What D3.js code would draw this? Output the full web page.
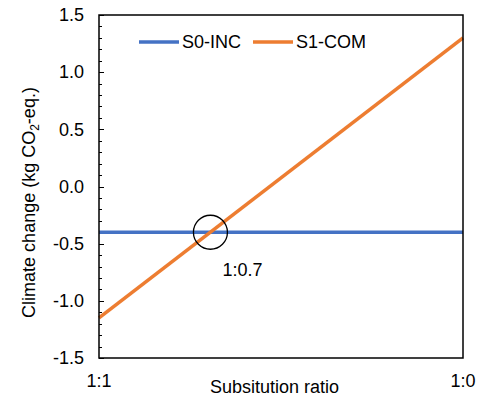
<!DOCTYPE html>
<html>
  <head>
    <script src="https://d3js.org/d3.v7.min.js"></script>
    <style>
      body { margin: 0; background: #fff; }
      text { font-family: "Liberation Sans", Arial, sans-serif; fill: #000; }
    </style>
  </head>
  <body>
    <svg width="478" height="398"></svg>
    <script>
      // substitution ratio position (0 = 1:1, 1 = 1:0)
      var xPos = [0, 1];
      var xTickLabels = ["1:1", "1:0"];
      var seriesNames = ["S0-INC", "S1-COM"];
      var s0Values = [-0.4, -0.4];
      var s1Values = [-1.15, 1.3];
      var colors = ["#4472C4", "#ED7D31"];
      var yTicks = [-1.5, -1.0, -0.5, 0.0, 0.5, 1.0, 1.5];
      var crossLabel = "1:0.7";

      var svg = d3.select("svg");
      var plotL = 99, plotT = 15, plotR = 463, plotB = 358;
      var fs = "18px";

      var x = d3.scaleLinear().domain([0, 1]).range([plotL, plotR]);
      var y = d3.scaleLinear().domain([-1.5, 1.5]).range([plotB, plotT]);

      // minor ticks (inside)
      var minor = d3.range(-15, 16).map(function (d) { return d / 10; });
      svg.append("g")
        .selectAll("line")
        .data(minor)
        .enter()
        .append("line")
        .attr("x1", plotL)
        .attr("x2", function (d) { return yTicks.indexOf(d) >= 0 ? plotL + 5 : plotL + 3; })
        .attr("y1", function (d) { return Math.round(y(d)) + 0.5; })
        .attr("y2", function (d) { return Math.round(y(d)) + 0.5; })
        .attr("stroke", "#000")
        .attr("stroke-width", 1);

      // y tick labels
      svg.append("g")
        .selectAll("text")
        .data(yTicks)
        .enter()
        .append("text")
        .attr("x", plotL - 15)
        .attr("y", function (d) { return y(d); })
        .attr("dy", "0.35em")
        .attr("text-anchor", "end")
        .style("font-size", fs)
        .text(function (d) { return d.toFixed(1); });

      // x tick labels
      svg.append("g")
        .selectAll("text")
        .data(xPos)
        .enter()
        .append("text")
        .attr("x", function (d) { return x(d); })
        .attr("y", plotB + 29)
        .attr("text-anchor", "middle")
        .style("font-size", fs)
        .text(function (d, i) { return xTickLabels[i]; });

      // series lines
      var line = d3.line()
        .x(function (d, i) { return x(xPos[i]); })
        .y(function (d) { return y(d); });

      [s0Values, s1Values].forEach(function (vals, i) {
        svg.append("path")
          .datum(vals)
          .attr("d", line)
          .attr("fill", "none")
          .attr("stroke", colors[i])
          .attr("stroke-width", 3.5);
      });

      // plot frame
      svg.append("rect")
        .attr("x", plotL)
        .attr("y", plotT)
        .attr("width", plotR - plotL)
        .attr("height", plotB - plotT)
        .attr("fill", "none")
        .attr("stroke", "#000")
        .attr("stroke-width", 1.5);

      // intersection circle
      var t = (s0Values[0] - s1Values[0]) / (s1Values[1] - s1Values[0]);
      var cx = x(t), cy = y(s0Values[0]);
      svg.append("circle")
        .attr("cx", cx)
        .attr("cy", cy)
        .attr("r", 17)
        .attr("fill", "none")
        .attr("stroke", "#000")
        .attr("stroke-width", 1.3);

      svg.append("text")
        .attr("x", cx + 32)
        .attr("y", cy + 44)
        .attr("text-anchor", "middle")
        .style("font-size", fs)
        .text(crossLabel);

      // legend
      var legendX = [139, 253];
      seriesNames.forEach(function (name, i) {
        svg.append("line")
          .attr("x1", legendX[i])
          .attr("x2", legendX[i] + 40)
          .attr("y1", 42)
          .attr("y2", 42)
          .attr("stroke", colors[i])
          .attr("stroke-width", 3.5);
        svg.append("text")
          .attr("x", legendX[i] + 43)
          .attr("y", 42)
          .attr("dy", "0.35em")
          .style("font-size", fs)
          .text(name);
      });

      // axis titles
      svg.append("text")
        .attr("x", 210)
        .attr("y", 393)
        .style("font-size", fs)
        .text("Subsitution ratio");

      var yt = svg.append("text")
        .attr("transform", "translate(35,202.5) rotate(-90)")
        .attr("text-anchor", "middle")
        .style("font-size", fs);
      yt.append("tspan").text("Climate change (kg CO");
      yt.append("tspan").attr("dy", 4).style("font-size", "12px").text("2");
      yt.append("tspan").attr("dy", -4).text("-eq.)");
    </script>
  </body>
</html>
